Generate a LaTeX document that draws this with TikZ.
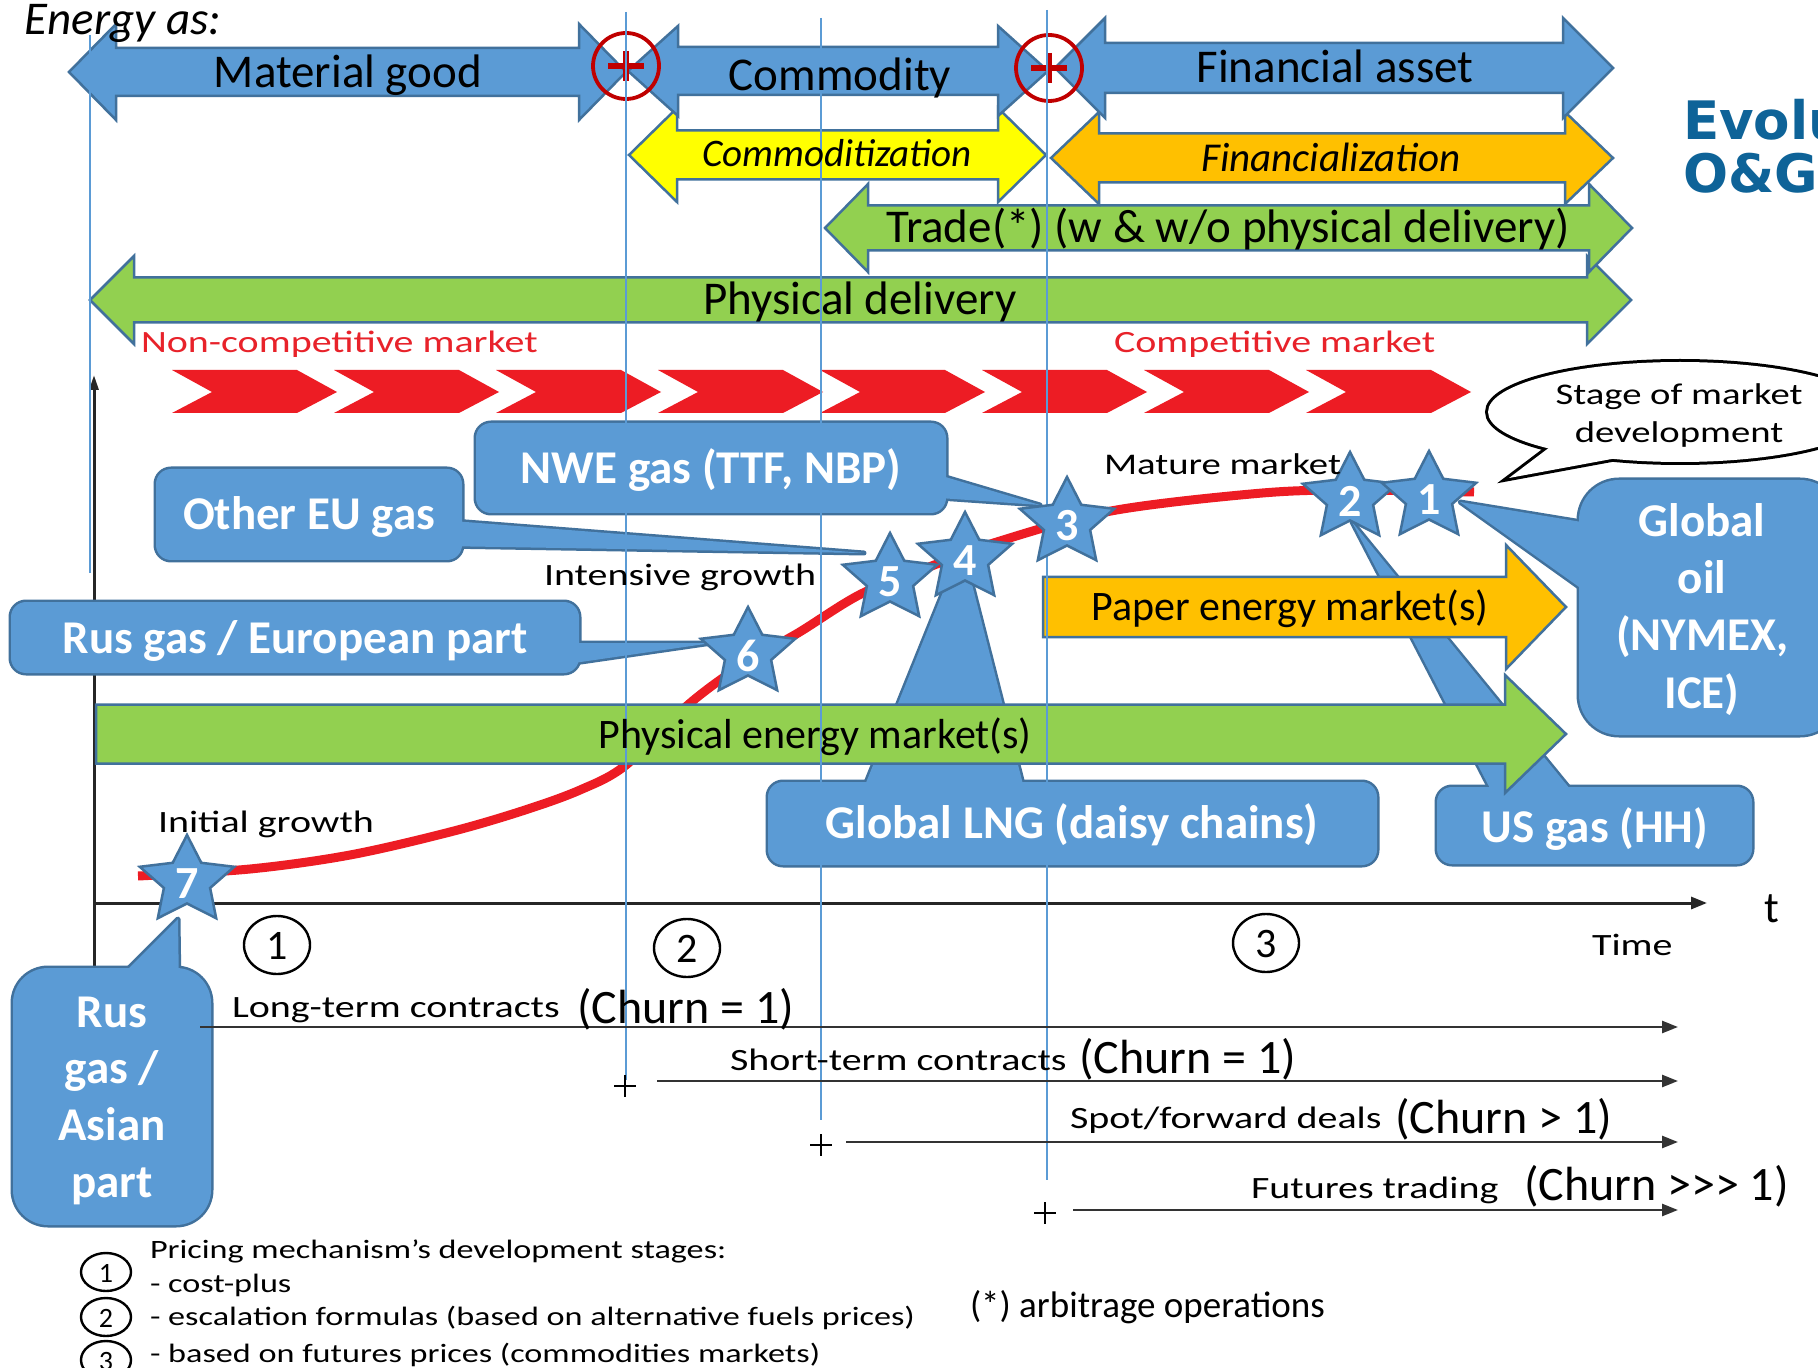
\documentclass[tikz,border=0pt]{standalone}
\usepackage{fontspec}
\setmainfont{Carlito}
\newfontfamily\lblfont[FakeStretch=1.29]{Carlito}
\newfontfamily\titlefont{DejaVu Sans}
\usetikzlibrary{arrows.meta}
\definecolor{bfill}{HTML}{5B9BD5}
\definecolor{bline}{HTML}{41719C}
\definecolor{gfill}{HTML}{92D050}
\definecolor{yfill}{HTML}{FFFF00}
\definecolor{ofill}{HTML}{FFC000}
\definecolor{chev}{HTML}{ED1C24}
\definecolor{redtxt}{HTML}{E8222A}
\definecolor{darkred}{HTML}{C00000}
\definecolor{titleblue}{RGB}{14,99,152}
\definecolor{vline}{HTML}{5B9BD5}
% double arrow: style, x left tip, x right tip, y centre, shaft half, head half, head length
\newcommand\DArrow[7]{%
  \path[#1] (#2,#4) -- ({#2+#7},{#4-#6}) -- ({#2+#7},{#4-#5}) -- ({#3-#7},{#4-#5}) -- ({#3-#7},{#4-#6}) -- (#3,#4) -- ({#3-#7},{#4+#6}) -- ({#3-#7},{#4+#5}) -- ({#2+#7},{#4+#5}) -- ({#2+#7},{#4+#6}) -- cycle;}
% single arrow: style, x left, x tip, y centre, shaft half, head half, head length
\newcommand\SArrow[7]{%
  \path[#1] (#2,{#4-#5}) -- ({#3-#7},{#4-#5}) -- ({#3-#7},{#4-#6}) -- (#3,#4) -- ({#3-#7},{#4+#6}) -- ({#3-#7},{#4+#5}) -- (#2,{#4+#5}) -- cycle;}
% star: name, x, y, number
\newcommand\BStar[4]{%
  \draw[starsty] plot[samples at={0,1,...,9}, variable=\k] ({#2+1.08*(46-23.5*isodd(\k))*cos(90+36*\k)},{#3-(46-23.5*isodd(\k))*sin(90+36*\k)}) -- cycle;
  \node[startext] (#1) at (#2,{#3+3}) {#4};}
\begin{document}
\begin{tikzpicture}[x=0.5pt,y=-0.5pt,
  every node/.style={inner sep=0pt, outer sep=0pt},
  arrowborder/.style={draw=bline, line width=1.25pt, line join=miter},
  barrow/.style={arrowborder, fill=bfill},
  garrow/.style={arrowborder, fill=gfill},
  yarrow/.style={arrowborder, fill=yfill},
  oarrow/.style={arrowborder, fill=ofill},
  cbord/.style={draw=bline, line width=2.5pt, line join=round},
  cfill/.style={fill=bfill},
  starsty/.style={draw=bline, fill=bfill, line width=1.25pt},
  startext/.style={text=white, font=\bfseries\fontsize{23}{27}\selectfont},
  bigtxt/.style={anchor=base, font=\fontsize{23.5}{28}\selectfont},
  ittxt/.style={anchor=base, font=\itshape\fontsize{19.5}{24}\selectfont},
  boxtxt/.style={anchor=base, text=white, font=\bfseries\fontsize{23.5}{28}\selectfont},
  bartxt/.style={anchor=base, font=\fontsize{21}{25}\selectfont},
  lbl/.style={anchor=base west, font=\lblfont\fontsize{15.5}{18}\selectfont},
  redlbl/.style={lbl, text=redtxt},
  churn/.style={anchor=base west, font=\fontsize{24}{28}\selectfont},
  legtxt/.style={anchor=base west, font=\lblfont\fontsize{13.25}{16}\selectfont},
  vblue/.style={draw=vline, line width=0.75pt},
  axisline/.style={draw=black!85, line width=1.5pt},
  cline/.style={draw=black!80, line width=1.3pt, -{Triangle[length=8pt,width=6pt]}},
  numell/.style={draw=black, line width=1.2pt},
  numtxt/.style={font=\fontsize{21}{24}\selectfont},
  legnum/.style={font=\fontsize{14}{16}\selectfont},
  pmark/.style={draw=black, line width=1pt},
  curvesty/.style={draw=chev, line width=4.5pt},
  titletxt/.style={anchor=base west, text=titleblue, font=\titlefont\bfseries\fontsize{26.5}{30}\selectfont}
]
\path[use as bounding box] (0,0) rectangle (1818,1368);
\clip (0,0) rectangle (1818,1368);
\fill[white] (0,0) rectangle (1818,1368);

% ---------- top band of arrows ----------
\DArrow{garrow}{90}{1631}{300}{22.5}{44}{44}
\DArrow{garrow}{825}{1632}{228}{22.5}{44}{43}
\DArrow{oarrow}{1051}{1613}{158}{24.5}{46}{48}
\DArrow{yarrow}{629}{1046}{155}{24.5}{47}{48}
\DArrow{barrow}{1055}{1613}{68}{25}{50}{50}
\DArrow{barrow}{628}{1048}{71}{24}{45}{50}
\DArrow{barrow}{69}{626}{72}{24}{48}{47}

\draw[darkred, line width=1.9pt] (626,66) circle[radius=33];
\draw[darkred, line width=3.2pt] (608,66) -- (644,66) (626,51) -- (626,81);
\draw[darkred, line width=1.9pt] (1049,68) circle[radius=33];
\draw[darkred, line width=3.2pt] (1031,68) -- (1067,68) (1049,53) -- (1049,83);

% ---------- chevrons ----------
\foreach \i in {0,...,7}{
  \fill[chev] ({172+162*\i},370) -- ++(125,0) -- ++(40,22) -- ++(-40,21) -- ++(-125,0) -- ++(40,-21) -- cycle;
}

% ---------- S-curve ----------
\draw[curvesty] plot[smooth, tension=0.55] coordinates {(138,876) (250,869) (350,855) (450,832) (522,811) (580,790) (626,765) (689,704) (745,663) (798,633) (861,594) (929,567) (1000,541) (1111,511) (1251,494) (1339,490) (1474,492)};

% ---------- axes ----------
\draw[axisline, -{Triangle[length=7.5pt,width=4.5pt]}] (94,1040) -- (94,375);
\draw[axisline, -{Triangle[length=8pt,width=6pt]}] (94,903) -- (1707,903);

% ---------- speech bubble ----------
\draw[black, line width=3pt] (1680,412) ellipse[x radius=192, y radius=50];
\draw[black, line width=3pt, line join=miter] (1550,447) -- (1509,478) -- (1617,458);
\fill[white] (1680,412) ellipse[x radius=192, y radius=50];
\fill[white] (1550,447) -- (1509,478) -- (1617,458) -- cycle;

% ---------- callouts (borders, then fills) ----------
\draw[cbord, rounded corners=7.5pt] (476,423) rectangle (946,513);
\draw[cbord] (925,471) -- (1040,505) -- (925,497);
\draw[cbord, rounded corners=7.5pt] (156,469) rectangle (462,560);
\draw[cbord] (440,520) -- (864,553) -- (440,546);
\draw[cbord, rounded corners=7.5pt] (11,602) rectangle (579,673);
\draw[cbord] (560,643) -- (712,643) -- (560,665);
\draw[cbord, rounded corners=7.5pt] (768,782) rectangle (1377,865);
\draw[cbord] (859,800) -- (962,545) -- (1027,800);
\draw[cbord, rounded corners=7.5pt] (1437,787) rectangle (1752,864);
\draw[cbord] (1496,800) -- (1352,522) -- (1579,800);
\draw[cbord, rounded corners=20pt] (1579,480) rectangle (1840,735);
\draw[cbord] (1600,525) -- (1460,502) -- (1600,602);
\draw[cbord, rounded corners=17.5pt] (13,968) rectangle (211,1225);
\draw[cbord] (107,990) -- (178,919) -- (179,990);

\fill[cfill, rounded corners=7.5pt] (476,423) rectangle (946,513);
\fill[cfill] (925,471) -- (1040,505) -- (925,497) -- cycle;
\fill[cfill, rounded corners=7.5pt] (156,469) rectangle (462,560);
\fill[cfill] (440,520) -- (864,553) -- (440,546) -- cycle;
\fill[cfill, rounded corners=7.5pt] (11,602) rectangle (579,673);
\fill[cfill] (560,643) -- (712,643) -- (560,665) -- cycle;
\fill[cfill, rounded corners=7.5pt] (768,782) rectangle (1377,865);
\fill[cfill] (859,800) -- (962,545) -- (1027,800) -- cycle;
\fill[cfill, rounded corners=7.5pt] (1437,787) rectangle (1752,864);
\fill[cfill] (1496,800) -- (1352,522) -- (1579,800) -- cycle;
\fill[cfill, rounded corners=20pt] (1579,480) rectangle (1840,735);
\fill[cfill] (1600,525) -- (1460,502) -- (1600,602) -- cycle;
\fill[cfill, rounded corners=17.5pt] (13,968) rectangle (211,1225);
\fill[cfill] (107,990) -- (178,919) -- (179,990) -- cycle;

% ---------- market bars ----------
\SArrow{oarrow}{1043}{1566}{607}{30}{62}{60}
\SArrow{garrow}{96}{1566}{734}{29.5}{59}{61}

% ---------- thin blue guide lines ----------
\draw[vblue] (90,35) -- (90,573);
\draw[vblue] (626,12) -- (626,1080);
\draw[vblue] (821,18) -- (821,1120);
\draw[vblue] (1047,10) -- (1047,1180);

% ---------- stars ----------
\BStar{s7}{187}{881}{7}
\BStar{s6}{748}{653}{6}
\BStar{s5}{890}{579}{5}
\BStar{s4}{965}{558}{4}
\BStar{s3}{1067}{523}{3}
\BStar{s2}{1350}{498}{2}
\BStar{s1}{1429}{497}{1}

% ---------- texts on top band ----------
\node[anchor=base west, font=\itshape\fontsize{23.5}{28}\selectfont] (energy) at (25,35) {Energy as:};
\node[bigtxt] (matgood) at (348,88) {Material good};
\node[bigtxt] (commod) at (840,91) {Commodity};
\node[bigtxt] (finasset) at (1335,83) {Financial asset};
\node[ittxt] (commzn) at (837,167) {Commoditization};
\node[ittxt, font=\itshape\fontsize{20.5}{24}\selectfont] (finzn) at (1331,172) {Financialization};
\node[bigtxt] (trade) at (1228,243) {Trade(*) (w \& w/o physical delivery)};
\node[bigtxt] (physdel) at (860,315) {Physical delivery};
\node[redlbl] (noncomp) at (141,353) {Non-competitive market};
\node[redlbl] (comp) at (1114,353) {Competitive market};
\node[titletxt] (title1) at (1683,140) {Evolu};
\node[titletxt] (title2) at (1683,193) {O\&G};

% bubble text
\node[anchor=base, font=\lblfont\fontsize{15}{18}\selectfont] (stage1) at (1679,405) {Stage of market};
\node[anchor=base, font=\lblfont\fontsize{15}{18}\selectfont] (stage2) at (1679,443) {development};

% curve labels
\node[lbl, font=\lblfont\fontsize{15}{18}\selectfont] (mature) at (1104,475) {Mature market};
\node[lbl] (intens) at (544,585) {Intensive growth};
\node[lbl] (initial) at (158,832) {Initial growth};

% callout texts
\node[boxtxt] (nwe) at (711,484) {NWE gas (TTF, NBP)};
\node[boxtxt] (othereu) at (309,530) {Other EU gas};
\node[boxtxt] (ruseur) at (295,653) {Rus gas / European part};
\node[boxtxt] (lng) at (1072,838) {Global LNG (daisy chains)};
\node[boxtxt] (usgas) at (1595,842) {US gas (HH)};
\node[boxtxt] (oil1) at (1702,537) {Global};
\node[boxtxt] (oil2) at (1702,593) {oil};
\node[boxtxt] (oil3) at (1702,650) {(NYMEX,};
\node[boxtxt] (oil4) at (1702,708) {ICE)};
\node[boxtxt] (rusa1) at (112,1027) {Rus};
\node[boxtxt] (rusa2) at (112,1083) {gas /};
\node[boxtxt] (rusa3) at (112,1140) {Asian};
\node[boxtxt] (rusa4) at (112,1197) {part};

% bar texts
\node[bartxt] (paper) at (1290,620) {Paper energy market(s)};
\node[bartxt] (physmkt) at (815,748) {Physical energy market(s)};

% ---------- time axis labels ----------
\node[anchor=base, font=\fontsize{22}{26}\selectfont] (tlabel) at (1772,922) {t};
\node[lbl] (time) at (1592,955) {Time};
\draw[numell] (277,945) ellipse[x radius=33, y radius=29];
\node[numtxt] (st1) at (277,946) {1};
\draw[numell] (687,948) ellipse[x radius=33, y radius=29];
\node[numtxt] (st2) at (687,949) {2};
\draw[numell] (1266,943) ellipse[x radius=33, y radius=29];
\node[numtxt] (st3) at (1266,944) {3};

% ---------- contract lines ----------
\draw[cline] (200,1027) -- (1678,1027);
\draw[cline] (657,1081) -- (1678,1081);
\draw[cline] (846,1142) -- (1678,1142);
\draw[cline] (1073,1210) -- (1678,1210);
\draw[pmark] (614,1086) -- (636,1086) (625,1075) -- (625,1097);
\draw[pmark] (810,1145) -- (832,1145) (821,1134) -- (821,1156);
\draw[pmark] (1034,1213) -- (1056,1213) (1045,1202) -- (1045,1224);

\node[lbl] (lt) at (232,1017) {Long-term contracts};
\node[churn] (ltc) at (577,1023) {(Churn = 1)};
\node[lbl] (stc) at (730,1070) {Short-term contracts};
\node[churn] (stcc) at (1079,1073) {(Churn = 1)};
\node[lbl] (spot) at (1070,1128) {Spot/forward deals};
\node[churn] (spotc) at (1395,1133) {(Churn > 1)};
\node[lbl] (fut) at (1251,1198) {Futures trading};
\node[churn] (futc) at (1524,1200) {(Churn >{}>{}> 1)};

% ---------- legend ----------
\node[legtxt] (leg0) at (150,1258) {Pricing mechanism’s development stages:};
\node[legtxt] (leg1) at (150,1292) {- cost-plus};
\node[legtxt] (leg2) at (150,1325) {- escalation formulas (based on alternative fuels prices)};
\node[legtxt] (leg3) at (150,1362) {- based on futures prices (commodities markets)};
\draw[numell] (106,1272) ellipse[x radius=25, y radius=19];
\node[legnum] (ln1) at (106,1273) {1};
\draw[numell] (106,1317) ellipse[x radius=25, y radius=19];
\node[legnum] (ln2) at (106,1318) {2};
\draw[numell] (106,1360) ellipse[x radius=25, y radius=19];
\node[legnum] (ln3) at (106,1361) {3};
\node[anchor=base west, font=\fontsize{18.5}{22}\selectfont] (arb) at (970,1317) {(*) arbitrage operations};
\end{tikzpicture}
\end{document}
